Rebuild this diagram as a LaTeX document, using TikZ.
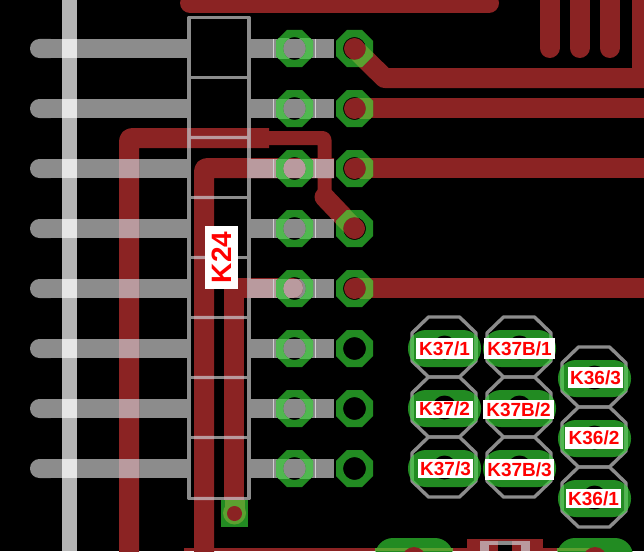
\documentclass[tikz,border=0pt]{standalone}
\usepackage{fontspec}
\setmainfont{Liberation Sans}
\definecolor{trace}{HTML}{8B2323}
\definecolor{silk}{HTML}{8C8C8C}
\definecolor{pink}{HTML}{B99A9E}
\definecolor{strip}{HTML}{B4B4B4}
\definecolor{cross}{HTML}{E6E6E6}
\definecolor{pad}{HTML}{228B22}
\definecolor{padgrey}{HTML}{50B850}
\definecolor{padred}{HTML}{5CA030}
\definecolor{tick}{HTML}{D0D0D0}
\tikzset{
  lbl/.style={fill=white,text=red,font=\fontsize{19}{19}\selectfont\bfseries,inner sep=0pt,text height=13.6pt,text depth=0pt,align=center},
  bigtrace/.style={line width=20pt,line join=round},
  thintrace/.style={line width=14pt,line join=round}
}
% all copper, drawn in the current colour
\newcommand\alltraces[1]{%
  \draw[#1,bigtrace,line cap=round] (190,3) -- (489,3);
  \draw[#1,bigtrace,rounded corners=3pt] (129,560) -- (129,138) -- (269,138);
  \draw[#1,thintrace,rounded corners=2pt] (262,138) -- (324.5,138) -- (324.5,197);
  \draw[#1,bigtrace,line cap=round] (324.5,197) -- (354.5,228.5);
  \draw[#1,bigtrace,rounded corners=3pt] (204,560) -- (204,168) -- (334,168);
  \draw[#1,bigtrace,line cap=round] (234,513) -- (234,288) -- (293,288);
  \draw[#1,bigtrace] (354.5,48.5) -- (384.5,78) -- (644,78);
  \draw[#1,bigtrace] (354.5,108) -- (644,108);
  \draw[#1,bigtrace] (354.5,168) -- (644,168);
  \draw[#1,bigtrace] (354.5,288) -- (644,288);
}
\newcommand\octpath{(7.7,-18.5) -- (18.5,-7.7) -- (18.5,7.7) -- (7.7,18.5) -- (-7.7,18.5) -- (-18.5,7.7) -- (-18.5,-7.7) -- (-7.7,-18.5) -- cycle}
\newcommand\bigoct{(-15.5,-30) -- (15.5,-30) -- (32,-14) -- (32,14) -- (15.5,30) -- (-15.5,30) -- (-32,14) -- (-32,-14) -- cycle}
\begin{document}
\begin{tikzpicture}[x=1pt,y=-1pt]
\useasboundingbox (0,0) rectangle (644,551);
\clip (0,0) rectangle (644,551);
\fill[black] (0,0) rectangle (644,551);

% grey bars and vertical strip
\fill[strip] (62,0) rectangle (77,551);
\foreach \y in {48.5,108.5,168.5,228.5,288.5,348.5,408.5,468.5}{
  \fill[silk,rounded corners=9.4pt] (30,\y-9.5) rectangle (60,\y+9.5);
  \fill[silk] (40,\y-9.5) rectangle (188,\y+9.5);
  \fill[silk] (250,\y-9.5) rectangle (334,\y+9.5);
  \fill[cross] (62,\y-9.5) rectangle (77,\y+9.5);
}

% copper
\alltraces{trace}
\fill[trace] (632,0) rectangle (644,78);
\foreach \x in {549.5,579.5,609.5}
  \draw[trace,line width=20pt,line cap=round] (\x,-12) -- (\x,48);
\fill[trace] (184,548) rectangle (595,551);

% connector outline K24
\draw[silk,line width=3.4pt,line join=round] (189,17.5) rectangle (249,498.5);
\foreach \y in {77.5,137.5,197.5,257.5,317.5,377.5,437.5}
  \draw[silk,line width=3.4pt] (189,\y) -- (249,\y);

% copper seen through the grey layer
\begin{scope}
  \clip (0,39) rectangle (188,58) (250,39) rectangle (334,58)
        (0,99) rectangle (188,118) (250,99) rectangle (334,118)
        (0,159) rectangle (188,178) (250,159) rectangle (334,178)
        (0,219) rectangle (188,238) (250,219) rectangle (334,238)
        (0,279) rectangle (188,298) (250,279) rectangle (334,298)
        (0,339) rectangle (188,358) (250,339) rectangle (334,358)
        (0,399) rectangle (188,418) (250,399) rectangle (334,418)
        (0,459) rectangle (188,478) (250,459) rectangle (334,478);
  \alltraces{pink}
\end{scope}
\begin{scope}
  \clip (187.3,16) rectangle (190.7,500)
        (247.3,16) rectangle (250.7,500)
        (187.3,135.8) rectangle (250.7,139.2)
        (187.3,195.8) rectangle (250.7,199.2)
        (187.3,255.8) rectangle (250.7,259.2)
        (187.3,315.8) rectangle (250.7,319.2)
        (187.3,375.8) rectangle (250.7,379.2)
        (187.3,435.8) rectangle (250.7,439.2)
        (187.3,496.8) rectangle (250.7,500.2);
  \alltraces{pink}
\end{scope}

% thin ticks on the bars
\foreach \y in {48.5,108.5,168.5,228.5,288.5,348.5,408.5,468.5}{
  \draw[tick,line width=0.8pt] (273.5,\y-9.5) -- (273.5,\y+9.5);
  \draw[tick,line width=0.8pt] (315.5,\y-9.5) -- (315.5,\y+9.5);
}

% inner pad column
\foreach \y in {48.5,108.5,168.5,228.5,288.5,348.5,408.5,468.5}{
  \begin{scope}[shift={(294.5,\y)}]
    \fill[pad,even odd rule] \octpath (0,0) circle (11.5);
    \begin{scope}
      \clip (-19,-9.5) rectangle (19,9.5);
      \fill[padgrey,even odd rule] \octpath (0,0) circle (11.5);
    \end{scope}
  \end{scope}
}

% outer pad column
\foreach \y in {48.5,108.5,168.5,228.5,288.5}
  \fill[trace] (354.5,\y) circle (10.5);
\foreach \y in {48.5,108.5,168.5,228.5,288.5,348.5,408.5,468.5}
  \fill[pad,even odd rule,shift={(354.5,\y)}] \octpath (0,0) circle (11.5);
\foreach \y in {108.5,168.5,288.5}{
  \begin{scope}[shift={(354.5,\y)}]
    \clip (0,-10) rectangle (20,10);
    \fill[padred,even odd rule] \octpath (0,0) circle (11.5);
  \end{scope}
}
\begin{scope}[shift={(354.5,48.5)}]
  \clip (7,-7) -- (-7,7) -- (13,27) -- (27,13) -- cycle;
  \fill[padred,even odd rule] \octpath (0,0) circle (11.5);
\end{scope}
\begin{scope}[shift={(354.5,228.5)}]
  \clip (7,-7) -- (-7,7) -- (-27,-13) -- (-13,-27) -- cycle;
  \fill[padred,even odd rule] \octpath (0,0) circle (11.5);
\end{scope}

% via below the connector
\fill[pad] (221,500) rectangle (248,527);
\fill[padred] (234.5,513) circle (11.5);
\fill[padred] (224.5,500) rectangle (244.5,513);
\fill[trace] (234.5,513.5) circle (7.5);

% K37 / K37B / K36 pads
\foreach \cx/\cy in {444.5/348.5,444.5/408.5,444.5/468.5,519.5/348.5,519.5/408.5,519.5/468.5,594.5/378.5,594.5/438.5,594.5/498.5}{
  \begin{scope}[shift={(\cx,\cy)}]
    \fill[pad,rounded corners=18pt] (-36.5,-18.5) rectangle (36.5,18.5);
    \fill[black] (0,-1) circle (12);
  \end{scope}
}
\foreach \cx/\cy in {444/347,444/407,444/467,519/347,519/407,519/467,594/377,594/437,594/497}{
  \draw[silk,line width=3.4pt,shift={(\cx,\cy)},line join=round] \bigoct;
}
\foreach \cx/\cy in {444.5/348.5,444.5/408.5,444.5/468.5,519.5/348.5,519.5/408.5,519.5/468.5,594.5/378.5,594.5/438.5,594.5/498.5}{
  \begin{scope}
    \clip[shift={(\cx,\cy)},rounded corners=18pt] (-36.5,-18.5) rectangle (36.5,18.5);
    \draw[padgrey,line width=3.5pt,shift={(\cx-0.5,\cy-1.5)}] \bigoct;
  \end{scope}
}

% bottom edge parts
\fill[pad,rounded corners=18pt] (375,538) rectangle (453,576);
\fill[padred] (375,548) rectangle (453,551);
\fill[trace] (414,559) circle (12);
\fill[pad,rounded corners=18pt] (557,538) rectangle (633,576);
\fill[padred] (557,548) rectangle (595,551);
\fill[trace] (595,559) circle (12);
\fill[trace] (467,539) rectangle (543,551);
\fill[pink] (480,541) rectangle (530,551);
\fill[silk] (498,541) rectangle (512,545);
\fill[trace] (489,545) rectangle (521,551);
\fill[black] (498,545) rectangle (512,551);

% labels
\node[lbl,rotate=90,minimum width=63pt,minimum height=33pt,font=\fontsize{28}{28}\selectfont\bfseries,text height=20pt] (k24) at (221.5,257.5) {K24};
\node[lbl,minimum width=57pt,minimum height=21pt] (k371) at (444.5,348.5) {K37/1};
\node[lbl,minimum width=57pt,minimum height=17pt] (k372) at (444.5,409) {K37/2};
\node[lbl,minimum width=55pt,minimum height=19pt] (k373) at (445.5,468.5) {K37/3};
\node[lbl,minimum width=71pt,minimum height=21pt] (k37b1) at (519.5,348.5) {K37B/1};
\node[lbl,minimum width=71pt,minimum height=19pt] (k37b2) at (518.5,409.5) {K37B/2};
\node[lbl,minimum width=69pt,minimum height=21pt] (k37b3) at (519.5,469.5) {K37B/3};
\node[lbl,minimum width=55pt,minimum height=21pt] (k363) at (595.5,377.5) {K36/3};
\node[lbl,minimum width=58pt,minimum height=22pt] (k362) at (594,438) {K36/2};
\node[lbl,minimum width=55pt,minimum height=19pt] (k361) at (593.5,498.5) {K36/1};
\end{tikzpicture}
\end{document}
